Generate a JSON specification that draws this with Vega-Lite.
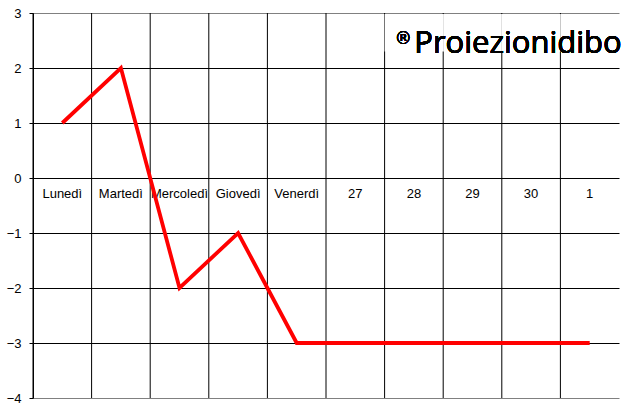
{
  "$schema": "https://vega.github.io/schema/vega-lite/v6.json",
  "width": 586,
  "height": 385,
  "padding": {"left": 6, "top": 7, "right": 8, "bottom": 13},
  "background": "white",
  "config": {
    "view": {"stroke": null},
    "font": "Liberation Sans"
  },
  "data": {
    "values": [
      {"day": "Lunedì", "value": 1},
      {"day": "Martedì", "value": 2},
      {"day": "Mercoledì", "value": -2},
      {"day": "Giovedì", "value": -1},
      {"day": "Venerdì", "value": -3},
      {"day": "27", "value": -3},
      {"day": "28", "value": -3},
      {"day": "29", "value": -3},
      {"day": "30", "value": -3},
      {"day": "1", "value": -3}
    ]
  },
  "encoding": {
    "x": {
      "field": "day",
      "type": "ordinal",
      "sort": null,
      "scale": {"paddingInner": 0, "paddingOuter": 0},
      "axis": {
        "title": null,
        "domain": false,
        "ticks": false,
        "grid": false,
        "labelAngle": 0,
        "labelFontSize": 13,
        "labelColor": "black",
        "labelPadding": 9,
        "offset": -220
      }
    }
  },
  "layer": [
    {
      "mark": {"type": "rule", "color": "black", "strokeWidth": 1},
      "encoding": {
        "x": {"field": "day", "type": "ordinal", "sort": null, "bandPosition": 0}
      }
    },
    {
      "transform": [{"filter": {"field": "day", "oneOf": ["28", "29", "30", "1"]}}],
      "mark": {"type": "rect", "color": "white"},
      "encoding": {
        "y": {"datum": 2.3, "type": "quantitative"},
        "y2": {"datum": 2.98}
      }
    },
    {
      "mark": {"type": "line", "color": "#FF0000", "strokeWidth": 3.8},
      "encoding": {
        "y": {
          "field": "value",
          "type": "quantitative",
          "scale": {"domain": [-4, 3], "nice": false},
          "axis": {
            "title": null,
            "values": [-4, -3, -2, -1, 0, 1, 2, 3],
            "format": "d",
            "grid": true,
            "gridColor": {"condition": {"test": "datum.value == 3 || datum.value == -4", "value": "#808080"}, "value": "black"},
            "gridOpacity": 1,
            "domainColor": "black",
            "tickColor": "black",
            "tickSize": 4,
            "labelPadding": 8,
            "labelFontSize": 13,
            "labelColor": "black"
          }
        }
      }
    },
    {
      "mark": {"type": "text", "text": "Proiezionidibo", "font": "Open Sans", "fontSize": 31, "align": "right", "baseline": "alphabetic", "dx": 32, "color": "black"},
      "encoding": {
        "x": {"datum": "1"},
        "y": {"datum": 2.28, "type": "quantitative"}
      }
    },
    {
      "mark": {"type": "text", "text": "®", "font": "DejaVu Sans", "fontSize": 17, "align": "right", "baseline": "alphabetic", "dx": -178, "color": "black"},
      "encoding": {
        "x": {"datum": "1"},
        "y": {"datum": 2.44, "type": "quantitative"}
      }
    }
  ]
}
